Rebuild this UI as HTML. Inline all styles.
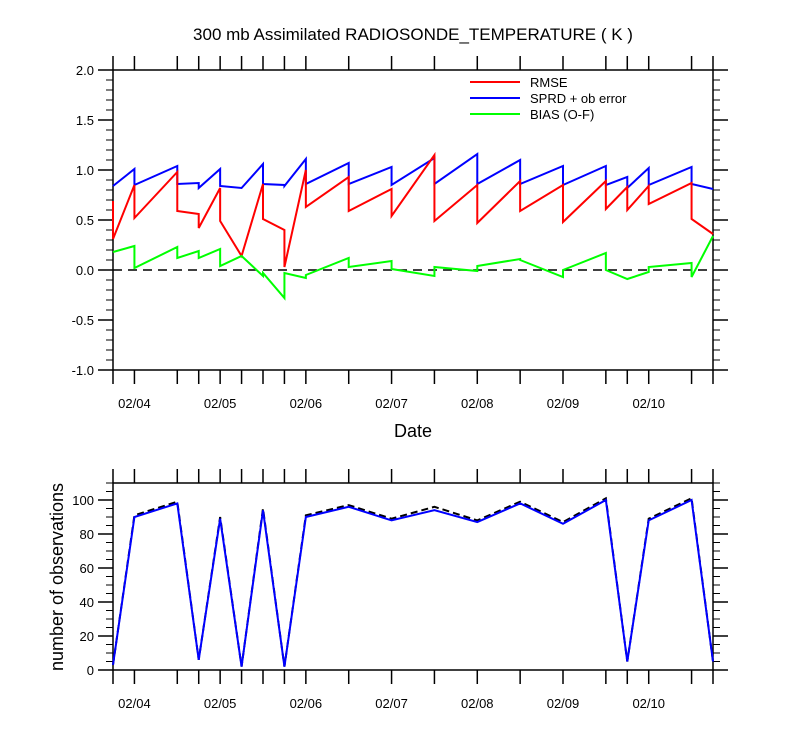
<!DOCTYPE html>
<html><head><meta charset="utf-8"><style>
html,body{margin:0;padding:0;background:#fff;}
svg text{font-family:"Liberation Sans",sans-serif;fill:#000;}
</style></head><body>
<svg id="c" width="800" height="750" xmlns="http://www.w3.org/2000/svg">
<text x="413" y="40" font-size="17" text-anchor="middle">300 mb Assimilated RADIOSONDE_TEMPERATURE ( K )</text>
<text x="413" y="437" font-size="18" text-anchor="middle">Date</text>
<text transform="translate(63,577) rotate(-90)" font-size="18" text-anchor="middle">number of observations</text>
<g id="gtop"></g><g id="gbot"></g>
</svg>
<script>
const times=[-0.25,0,0.5,0.75,1,1.25,1.5,1.75,2,2.5,3,3.5,4,4.5,5,5.5,5.75,6,6.5,6.75];
const dateLabels=["02/04","02/05","02/06","02/07","02/08","02/09","02/10"];
const rmsePrior=[0.69,0.85,0.98,0.56,0.82,0.14,0.86,0.40,1.00,0.93,0.81,1.15,0.85,0.89,0.85,0.89,0.83,0.84,0.87,0.36];
const rmsePost=[0.31,0.52,0.59,0.42,0.49,0.14,0.51,0.03,0.63,0.59,0.54,0.49,0.47,0.59,0.48,0.61,0.60,0.66,0.51,0.36];
const sprdPrior=[0.84,1.01,1.04,0.87,1.01,0.82,1.06,0.85,1.11,1.07,1.03,1.12,1.16,1.10,1.04,1.04,0.93,1.02,1.03,0.81];
const sprdPost=[0.84,0.85,0.86,0.82,0.84,0.82,0.86,0.84,0.86,0.86,0.85,0.86,0.86,0.86,0.85,0.85,0.82,0.85,0.86,0.81];
const biasPrior=[0.18,0.24,0.23,0.19,0.21,0.14,-0.06,-0.28,-0.08,0.12,0.09,-0.06,-0.01,0.11,-0.07,0.17,-0.09,-0.02,0.07,0.34];
const biasPost=[0.18,0.02,0.12,0.12,0.04,0.14,-0.03,-0.03,-0.05,0.03,0.01,0.03,0.04,0.10,0.00,0.00,-0.09,0.03,-0.07,0.34];
const obsUsed=[3,90,98,6,89,2,94,2,90,96,88,94,87,98,86,100,5,88,100,5];
const obsTotal=[3,91,99,6,90,2,95,2,91,97,89,96,88,99,87,101,5,89,101,5];
const topTicks=[-1.0,-0.5,0.0,0.5,1.0,1.5,2.0];
const botTicks=[0,20,40,60,80,100];

const NS="http://www.w3.org/2000/svg";
const X0=113,X1=713,T0=-0.25,T1=6.75;
const xs=t=>X0+(t-T0)/(T1-T0)*(X1-X0);
const yTop=v=>370-(v+1)/3*300;
const yBot=v=>670-v/110*187;
function mk(tag,attrs,parent){const e=document.createElementNS(NS,tag);for(const k in attrs)e.setAttribute(k,attrs[k]);parent.appendChild(e);return e;}
const gTop=document.getElementById('gtop'),gBot=document.getElementById('gbot');

function frame(g,yt,y0,y1,ticks,fmt,minorStep,lo,hi){
  const r=mk('rect',{x:X0,y:y0,width:X1-X0,height:y1-y0,fill:'none',stroke:'#000','stroke-width':1.5},g);
  
  
  times.forEach(t=>{
    const x=xs(t);
    mk('line',{x1:x,x2:x,y1:y1,y2:y1+14,stroke:'#000','stroke-width':1.5},g);
    mk('line',{x1:x,x2:x,y1:y0,y2:y0-14,stroke:'#000','stroke-width':1.5},g);
  });
  dateLabels.forEach((d,i)=>{
    const t=mk('text',{x:xs(i),y:y1+38,'font-size':13,'text-anchor':'middle'},g);t.textContent=d;
    
    
  });
  for(let v=lo;v<=hi+1e-9;v+=minorStep){
    const y=yt(v);
    mk('line',{x1:X0-7,x2:X0,y1:y,y2:y,stroke:'#000','stroke-width':1},g);
    mk('line',{x1:X1,x2:X1+7,y1:y,y2:y,stroke:'#000','stroke-width':1},g);
  }
  ticks.forEach(v=>{
    const y=yt(v);
    mk('line',{x1:X0-15,x2:X0,y1:y,y2:y,stroke:'#000','stroke-width':1.5},g);
    mk('line',{x1:X1,x2:X1+15,y1:y,y2:y,stroke:'#000','stroke-width':1.5},g);
    const t=mk('text',{x:X0-19,y:y+5,'font-size':13,'text-anchor':'end'},g);t.textContent=fmt(v);
    
    
  });
}
frame(gTop,yTop,70,370,topTicks,v=>v.toFixed(1),0.1,-1,2);
frame(gBot,yBot,483,670,botTicks,v=>String(v),5,0,110);

const z=mk('line',{x1:X0,x2:X1,y1:yTop(0),y2:yTop(0),stroke:'#000','stroke-width':1.5,'stroke-dasharray':'9,6'},gTop);



function saw(pr,po,color,name){
  let d='';
  times.forEach((t,i)=>{d+=(i?'L':'M')+xs(t)+','+yTop(pr[i])+'L'+xs(t)+','+yTop(po[i]);});
  const p=mk('path',{d:d,fill:'none',stroke:color,'stroke-width':2},gTop);
  
  
}
saw(sprdPrior,sprdPost,'#0000ff','sprd-line');
saw(rmsePrior,rmsePost,'#ff0000','rmse-line');
saw(biasPrior,biasPost,'#00ff00','bias-line');

function line(vals,color,dash,name){
  const d=times.map((t,i)=>(i?'L':'M')+xs(t)+','+yBot(vals[i])).join('');
  const a={d:d,fill:'none',stroke:color,'stroke-width':2};if(dash)a['stroke-dasharray']=dash;
  const p=mk('path',a,gBot);
  
  
}
line(obsTotal,'#000','7,4','obs-total-line');
line(obsUsed,'#0000ff',null,'obs-used-line');

const leg=[['RMSE','#ff0000'],['SPRD + ob error','#0000ff'],['BIAS (O-F)','#00ff00']];
leg.forEach((l,i)=>{
  const y=82+i*16;
  const g=mk('g',{},gTop);
  
  
  mk('line',{x1:470,x2:520,y1:y,y2:y,stroke:l[1],'stroke-width':2},g);
  const t=mk('text',{x:530,y:y+5,'font-size':13},g);t.textContent=l[0];
});
</script>
</body></html>
